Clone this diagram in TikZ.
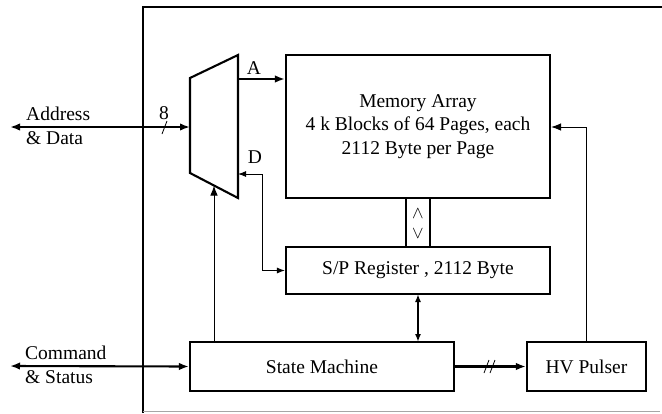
\documentclass[tikz,border=0pt]{standalone}
\usepackage{fontspec}
\setmainfont{Liberation Serif}
\usetikzlibrary{arrows.meta}
\begin{document}
\begin{tikzpicture}[x=1pt,y=-1pt,
  font=\fontsize{19.5}{23.5}\selectfont,
  blk/.style={draw,line width=2.1pt,rectangle,inner sep=0pt,align=center},
  thk/.style={line width=2.1pt},
  thn/.style={line width=1pt},
  tip/.style={-{Latex[length=10pt,width=7.5pt]}},
  dtip/.style={{Latex[length=10pt,width=7.5pt]}-{Latex[length=10pt,width=7.5pt]}},
  stip/.style={{Latex[length=8pt,width=6pt]}-{Latex[length=8pt,width=6pt]}},
  lbl/.style={inner sep=0pt}]
\useasboundingbox (0,0) rectangle (662,413);
% outer frame
\draw[line width=2.6pt] (143,413) -- (143,7) -- (662,7);
\draw[line width=0.8pt,gray!70] (143,411) -- (660,411);
% blocks
\node[blk,minimum width=264pt,minimum height=143pt] (mem) at (418,126.5) {Memory Array\\4 k Blocks of 64 Pages, each\\2112 Byte per Page};
\node[blk,minimum width=264pt,minimum height=47pt] (sp) at (418,270.5) {S/P Register , 2112 Byte};
\node[blk,minimum width=264pt,minimum height=49pt] (sm) at (322,366.5) {State Machine};
\node[blk,minimum width=119pt,minimum height=49pt] (hv) at (586.5,366.5) {HV Pulser};
% mux
\coordinate (m1) at (190,78);
\coordinate (m2) at (238,55);
\coordinate (m3) at (238,198);
\coordinate (m4) at (190,173);
\draw[thk] (m1) -- (m2) -- (m3) -- (m4) -- cycle;
\coordinate (muxin) at (190,127);
\coordinate (muxA) at (238,79);
\coordinate (muxD) at (238,174);
\coordinate (muxB) at (214,185.5);
% address & data
\coordinate (adl) at (10,127);
\draw[thk,dtip] (adl) -- (muxin);
\draw[line width=0.8pt] (162,134) -- (167,121);
\node[lbl] (eight) at (164,113) {8};
\node[lbl,anchor=west,align=left] (adlab) at (26,126) {Address\\\& Data};
% A
\draw[thk,tip] (muxA) -- (muxA -| mem.west);
\node[lbl] (la) at (254,68) {A};
% D
\coordinate (dc) at (262,174);
\draw[thn,stip] (muxD) -- (dc) |- (sp.west);
\node[lbl] (ld) at (255,157) {D};
% SM to mux
\draw[thn,tip] (muxB |- sm.north) -- (muxB);
% bus mem-sp
\draw[thk] (406,198) -- (406,247);
\draw[thk] (430,198) -- (430,247);
\node[lbl,font=\fontsize{17.5}{17.5}\selectfont] (up) at (418,213.5) {$\wedge$};
\node[lbl,font=\fontsize{17.5}{17.5}\selectfont] (dn) at (418,233.5) {$\vee$};
% sp <-> sm
\draw[thk,stip] (418,294) -- (418,342);
% command & status
\coordinate (csl) at (10,366);
\draw[thk,dtip] (csl) -- (sm.west);
\node[lbl,anchor=west,align=left] (cslab) at (25,365) {Command\\\& Status};
% sm -> hv
\draw[thk,tip] (sm.east) -- (hv.west);
\draw[line width=0.8pt] (484,373) -- (489,360) (490,373) -- (495,360);
% hv -> mem
\draw[thn,tip] (586,342) |- (mem.east |- 0,127);
\end{tikzpicture}
\end{document}
